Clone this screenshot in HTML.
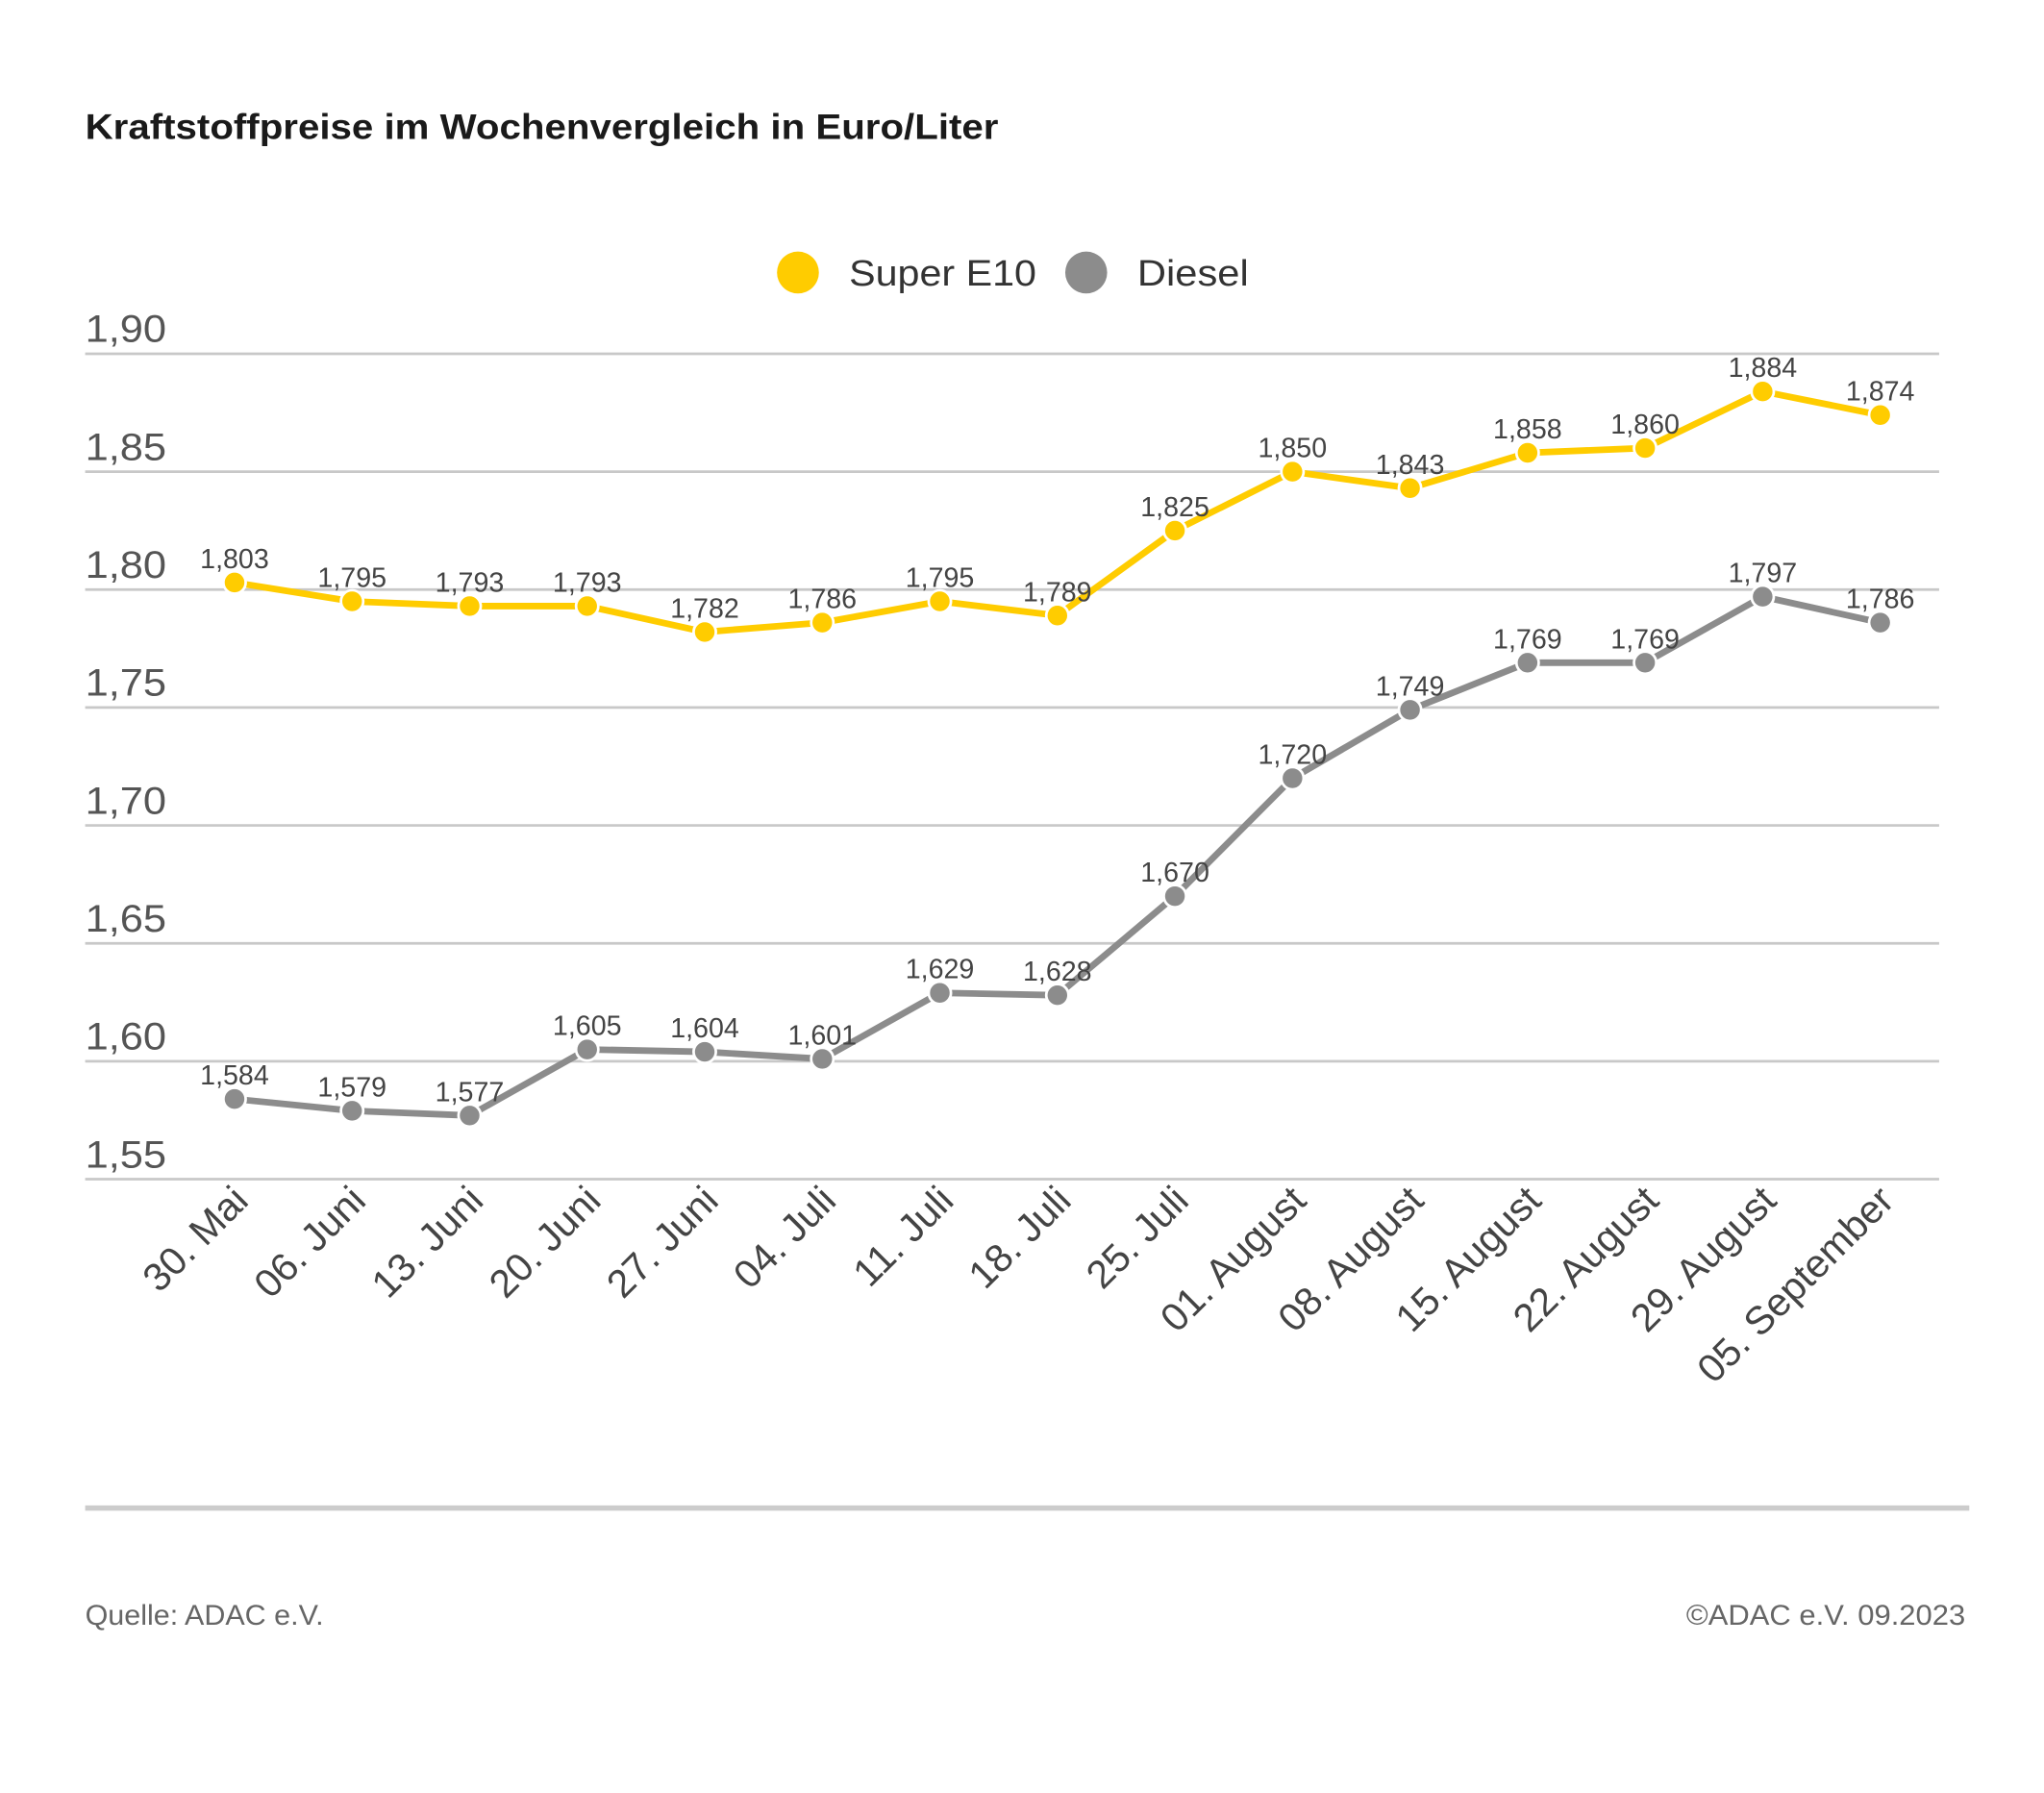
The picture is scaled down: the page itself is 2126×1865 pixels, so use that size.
<!DOCTYPE html>
<html><head><meta charset="utf-8"><style>
html,body{margin:0;padding:0;background:#fff;}
svg{display:block;}
text{font-family:"Liberation Sans",sans-serif;}
</style></head><body>
<svg width="2126" height="1865" viewBox="0 0 1560 1368.5" xmlns="http://www.w3.org/2000/svg">
<rect width="1560" height="1368.5" fill="#fff"/>
<text x="65" y="106" font-size="27" font-weight="bold" fill="#1a1a1a" textLength="697" lengthAdjust="spacingAndGlyphs">Kraftstoffpreise im Wochenvergleich in Euro/Liter</text>
<circle cx="609" cy="208" r="16" fill="#FFCC00"/>
<text x="648" y="218" font-size="28" fill="#333" textLength="143" lengthAdjust="spacingAndGlyphs">Super E10</text>
<circle cx="829" cy="208" r="16" fill="#8c8c8c"/>
<text x="868" y="218" font-size="28" fill="#333" textLength="85" lengthAdjust="spacingAndGlyphs">Diesel</text>
<g stroke="#c8c8c8" stroke-width="2">
<line x1="65" x2="1480" y1="270" y2="270"/><line x1="65" x2="1480" y1="360" y2="360"/>
<line x1="65" x2="1480" y1="450" y2="450"/><line x1="65" x2="1480" y1="540" y2="540"/>
<line x1="65" x2="1480" y1="630" y2="630"/><line x1="65" x2="1480" y1="720" y2="720"/>
<line x1="65" x2="1480" y1="810" y2="810"/><line x1="65" x2="1480" y1="900" y2="900"/>
</g>
<g font-size="29" fill="#555">
<text x="65" y="261" textLength="62" lengthAdjust="spacingAndGlyphs">1,90</text>
<text x="65" y="351" textLength="62" lengthAdjust="spacingAndGlyphs">1,85</text>
<text x="65" y="441" textLength="62" lengthAdjust="spacingAndGlyphs">1,80</text>
<text x="65" y="531" textLength="62" lengthAdjust="spacingAndGlyphs">1,75</text>
<text x="65" y="621" textLength="62" lengthAdjust="spacingAndGlyphs">1,70</text>
<text x="65" y="711" textLength="62" lengthAdjust="spacingAndGlyphs">1,65</text>
<text x="65" y="801" textLength="62" lengthAdjust="spacingAndGlyphs">1,60</text>
<text x="65" y="891" textLength="62" lengthAdjust="spacingAndGlyphs">1,55</text>
</g>
<g id="series"></g>
<line x1="65" x2="1503" y1="1151" y2="1151" stroke="#cccccc" stroke-width="4"/>
<text x="65" y="1240" font-size="22" fill="#666" textLength="182" lengthAdjust="spacingAndGlyphs">Quelle: ADAC e.V.</text>
<text x="1500" y="1240" font-size="22" fill="#666" text-anchor="end" textLength="213" lengthAdjust="spacingAndGlyphs">©ADAC e.V. 09.2023</text>
<script>
(function(){
var ns="http://www.w3.org/2000/svg";
var g=document.getElementById("series");
var e10=[1.803,1.795,1.793,1.793,1.782,1.786,1.795,1.789,1.825,1.850,1.843,1.858,1.860,1.884,1.874];
var di=[1.584,1.579,1.577,1.605,1.604,1.601,1.629,1.628,1.670,1.720,1.749,1.769,1.769,1.797,1.786];
var lab=["30. Mai","06. Juni","13. Juni","20. Juni","27. Juni","04. Juli","11. Juli","18. Juli","25. Juli","01. August","08. August","15. August","22. August","29. August","05. September"];
function X(i){return 179+i*(1435-179)/14;}
function Y(v){return 270+(1.90-v)*1800;}
function el(n,a,t){var e=document.createElementNS(ns,n);for(var k in a)e.setAttribute(k,a[k]);if(t)e.textContent=t;g.appendChild(e);return e;}
function draw(d,c){
 var p=d.map(function(v,i){return X(i).toFixed(1)+","+Y(v).toFixed(1);}).join(" ");
 el("polyline",{points:p,fill:"none",stroke:c,"stroke-width":5,"stroke-linejoin":"round"});
 d.forEach(function(v,i){
  el("circle",{cx:X(i),cy:Y(v),r:8.5,fill:c,stroke:"#fff","stroke-width":2});
  el("text",{x:X(i),y:Y(v)-11,"font-size":21,fill:"#444","text-anchor":"middle"},v.toFixed(3).replace(".",","));
 });
}
draw(e10,"#FFCC00");draw(di,"#8c8c8c");
lab.forEach(function(s,i){
 var x=X(i)+12,y=918;
 el("text",{x:x,y:y,"font-size":30,fill:"#444","text-anchor":"end",transform:"rotate(-45 "+x+" "+y+")"},s);
});
})();
</script>
</svg>
</body></html>
